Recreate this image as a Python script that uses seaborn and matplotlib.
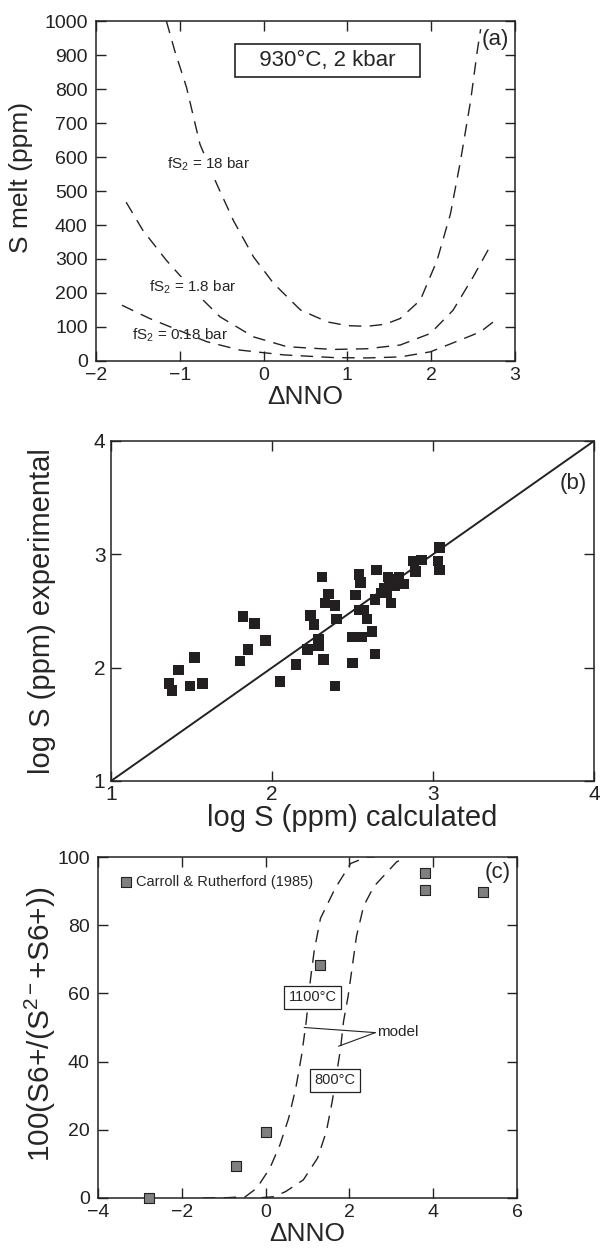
import matplotlib
matplotlib.use("Agg")
import matplotlib.pyplot as plt
import seaborn as sns

# ---------------- data ----------------
# panel (a): S melt (ppm) vs dNNO, three fS2 curves
a18_x = [-1.16, -1.06, -0.92, -0.76, -0.56, -0.36, -0.12, 0.12, 0.44, 0.76, 1.00, 1.23, 1.45, 1.63, 1.87, 2.07, 2.23, 2.35, 2.47, 2.55, 2.59]
a18_y = [1000, 912, 805, 638, 521, 413, 306, 228, 150, 115, 104, 102, 108, 125, 179, 296, 433, 589, 765, 912, 976]
a1p8_x = [-1.64, -1.44, -1.16, -0.84, -0.52, -0.12, 0.28, 0.83, 1.23, 1.63, 1.99, 2.26, 2.50, 2.72]
a1p8_y = [467, 384, 296, 208, 130, 71, 42, 34, 36, 47, 81, 149, 247, 345]
a0p18_x = [-1.69, -1.36, -1.07, -0.68, -0.28, 0.24, 0.84, 1.23, 1.63, 1.99, 2.35, 2.59, 2.74]
a0p18_y = [164, 125, 96, 57, 32, 18, 10, 9, 12, 27, 62, 86, 115]

# panel (b): log S experimental vs calculated
b_calc = [1.36, 1.38, 1.42, 1.49, 1.52, 1.57, 1.80, 1.82, 1.85, 1.89, 1.96, 2.05, 2.15, 2.22,
          2.24, 2.26, 2.29, 2.29, 2.31, 2.32, 2.35, 2.33, 2.39, 2.40, 2.39, 2.50, 2.50, 2.52,
          2.54, 2.55, 2.54, 2.56, 2.57, 2.59, 2.62, 2.64, 2.65, 2.64, 2.68, 2.72, 2.73, 2.74,
          2.71, 2.76, 2.79, 2.82, 2.88, 2.89, 2.93, 3.03, 3.04, 3.04, 2.76, 2.70]
b_exp = [1.86, 1.80, 1.98, 1.84, 2.09, 1.86, 2.06, 2.45, 2.16, 2.39, 2.24, 1.88, 2.03, 2.16,
         2.46, 2.38, 2.25, 2.19, 2.80, 2.07, 2.65, 2.57, 2.55, 2.43, 1.84, 2.04, 2.27, 2.64,
         2.82, 2.75, 2.51, 2.27, 2.51, 2.43, 2.32, 2.12, 2.86, 2.60, 2.66, 2.80, 2.74, 2.57,
         2.66, 2.78, 2.80, 2.74, 2.94, 2.85, 2.95, 2.94, 2.86, 3.06, 2.72, 2.70]
b_line = [1, 4]

# panel (c): sulfate fraction vs dNNO
c_x = [-2.79, -0.70, 0.0, 1.31, 3.80, 3.80, 5.19]
c_y = [0.0, 9.5, 19.4, 68.4, 95.3, 90.4, 89.8]
c1100_x = [-1.5, -0.9, -0.48, -0.21, 0.10, 0.34, 0.55, 0.72, 0.86, 0.97, 1.07, 1.16, 1.31, 1.66, 2.03, 2.42, 2.6]
c1100_y = [0.0, 0.1, 0.4, 2.9, 8.7, 15.5, 23.4, 32.2, 41.9, 51.8, 64.0, 72.5, 82.0, 90.8, 98.1, 100, 100]
c800_x = [-0.1, 0.21, 0.48, 0.90, 1.24, 1.45, 1.59, 1.79, 1.86, 1.97, 2.07, 2.17, 2.34, 2.58, 3.13, 3.25]
c800_y = [0.1, 0.4, 1.9, 5.3, 11.7, 19.5, 28.3, 43.9, 51.8, 59.2, 68.0, 76.8, 85.6, 91.3, 98.6, 99.2]

# ---------------- style ----------------
sns.set_theme(style="ticks")
plt.rcParams["font.family"] = ["Liberation Sans", "DejaVu Sans"]
plt.rcParams["mathtext.fontset"] = "custom"
plt.rcParams["mathtext.rm"] = "Liberation Sans"
plt.rcParams["mathtext.it"] = "Liberation Sans:italic"
plt.rcParams["mathtext.default"] = "regular"
plt.rcParams["axes.linewidth"] = 1.1
plt.rcParams["axes.edgecolor"] = "#222222"

fig = plt.figure(figsize=(6.04, 12.5), dpi=100)
W, H = 604, 1250


def add_ax(l, t, r, b):
    return fig.add_axes([l / W, 1 - b / H, (r - l) / W, (b - t) / H])


def style_ax(ax, size=14):
    ax.tick_params(direction="in", top=True, right=True, length=7, width=1,
                   labelsize=size, pad=4, colors="#222222")
    for s in ax.spines.values():
        s.set_visible(True)


dash = (0, (9, 6))
lc = "#222222"

# ---------------- panel (a) ----------------
axA = add_ax(96, 21, 515, 361)
for xs, ys in [(a18_x, a18_y), (a1p8_x, a1p8_y), (a0p18_x, a0p18_y)]:
    sns.lineplot(x=xs, y=ys, ax=axA, sort=False, estimator=None, color=lc,
                 linewidth=1.0, linestyle=dash)
axA.set_xlim(-2, 3)
axA.set_ylim(0, 1000)
axA.set_xticks([-2, -1, 0, 1, 2, 3])
axA.set_xticklabels(["\u22122", "\u22121", "0", "1", "2", "3"])
axA.set_yticks(range(0, 1001, 100))
style_ax(axA, 14)
axA.tick_params(axis="y", pad=6)
axA.set_xlabel("\u0394NNO", fontsize=19, labelpad=1)
axA.set_ylabel("S melt (ppm)", fontsize=19)
axA.yaxis.set_label_coords(-0.15, 0.54)
axA.text(0.76, 885, "   930\u00b0C, 2 kbar   ", fontsize=16, ha="center", va="center",
         bbox=dict(boxstyle="square,pad=0.27", fc="white", ec=lc, lw=1.2))
axA.text(0.985, 0.975, "(a)", transform=axA.transAxes, fontsize=16, ha="right", va="top")
wb = dict(boxstyle="square,pad=0.05", fc="white", ec="none")
axA.text(-0.66, 578, "fS$_2$ = 18 bar", fontsize=11, ha="center", va="center", bbox=wb)
axA.text(-0.84, 218, "fS$_2$ = 1.8 bar", fontsize=11, ha="center", va="center", bbox=wb)
axA.text(-1.0, 75, "fS$_2$ = 0.18 bar", fontsize=11, ha="center", va="center")

# ---------------- panel (b) ----------------
axB = add_ax(111, 441, 594, 781)
sns.lineplot(x=b_line, y=b_line, ax=axB, color=lc, linewidth=1.4, estimator=None)
sns.scatterplot(x=b_calc, y=b_exp, ax=axB, marker="s", s=58, color="#231f20",
                edgecolor="none", linewidth=0)
axB.set_xlim(1, 4)
axB.set_ylim(1, 4)
axB.set_xticks([1, 2, 3, 4])
axB.set_yticks([1, 2, 3, 4])
style_ax(axB, 15)
axB.tick_params(axis="x", pad=3)
axB.set_xlabel("log S (ppm) calculated", fontsize=21, labelpad=0)
axB.set_ylabel("log S (ppm) experimental", fontsize=21)
axB.yaxis.set_label_coords(-0.113, 0.5)
axB.text(0.985, 0.875, "(b)", transform=axB.transAxes, fontsize=16, ha="right", va="center")

# ---------------- panel (c) ----------------
axC = add_ax(98, 857, 517, 1198)
sns.lineplot(x=c1100_x, y=c1100_y, ax=axC, sort=False, estimator=None, color=lc,
             linewidth=1.0, linestyle=dash)
sns.lineplot(x=c800_x, y=c800_y, ax=axC, sort=False, estimator=None, color=lc,
             linewidth=1.0, linestyle=dash)
sns.scatterplot(x=c_x, y=c_y, ax=axC, marker="s", s=62, color="#808080",
                edgecolor="#222222", linewidth=0.8, label="Carroll & Rutherford (1985)",
                clip_on=False, zorder=5)
axC.set_xlim(-4, 6)
axC.set_ylim(0, 100)
axC.set_xticks([-4, -2, 0, 2, 4, 6])
axC.set_xticklabels(["\u22124", "\u22122", "0", "2", "4", "6"])
axC.set_yticks(range(0, 101, 20))
style_ax(axC, 14)
axC.tick_params(axis="y", pad=6)
axC.set_xlabel("\u0394NNO", fontsize=19, labelpad=1)
axC.set_ylabel("100(S6+/(S$^{2\u2212}$+S6+))", fontsize=21.5)
axC.yaxis.set_label_coords(-0.095, 0.51)
leg = axC.legend(loc="center left", bbox_to_anchor=(0.046, 0.927), frameon=False,
                 fontsize=10.5, handletextpad=0.1, handlelength=1.2, borderaxespad=0,
                 borderpad=0)
axC.text(0.985, 0.985, "(c)", transform=axC.transAxes, fontsize=16, ha="right", va="top")
box = dict(boxstyle="square,pad=0.3", fc="white", ec=lc, lw=0.9)
axC.text(1.12, 58.9, "1100\u00b0C", fontsize=10.5, ha="center", va="center", bbox=box)
axC.text(1.65, 34.5, "800\u00b0C", fontsize=10.5, ha="center", va="center", bbox=box)
axC.text(2.66, 48.7, "model", fontsize=11, ha="left", va="center")
axC.annotate("", xy=(0.92, 50.0), xytext=(2.62, 48.5),
             arrowprops=dict(arrowstyle="-", color=lc, lw=0.8, shrinkA=0, shrinkB=0))
axC.annotate("", xy=(1.74, 44.5), xytext=(2.62, 48.5),
             arrowprops=dict(arrowstyle="-", color=lc, lw=0.8, shrinkA=0, shrinkB=0))

fig.savefig("out.png", dpi=100)
